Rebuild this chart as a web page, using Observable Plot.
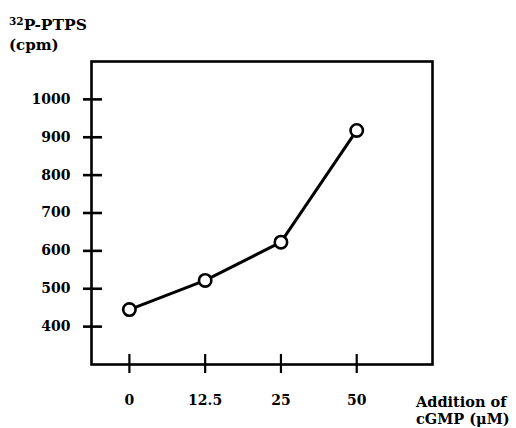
<!DOCTYPE html>
<html>
<head>
<meta charset="utf-8">
<script src="https://cdn.jsdelivr.net/npm/d3@7"></script>
<script src="https://cdn.jsdelivr.net/npm/@observablehq/plot@0.6"></script>
<style>
  html, body { margin: 0; padding: 0; background: #fff; }
  #chart { width: 516px; height: 428px; }
  svg text { font-family: "DejaVu Serif", serif; font-weight: bold; }
</style>
</head>
<body>
<div id="chart"></div>
<script>
const cgmpLabels = ["0", "12.5", "25", "50"];
const ptpsCpm = [445, 522, 623, 918];
const yTicks = [400, 500, 600, 700, 800, 900, 1000];
const yTitleLines = ["P-PTPS", "(cpm)"];
const xTitleLines = ["Addition of", "cGMP (μM)"];

const data = cgmpLabels.map((c, i) => ({ idx: i, label: c, cpm: ptpsCpm[i] }));

const plot = Plot.plot({
  width: 516,
  height: 428,
  marginLeft: 91,
  marginRight: 84,
  marginTop: 61,
  marginBottom: 64,
  style: { background: "#fff", color: "#000", fontFamily: "DejaVu Serif", fontSize: "14px" },
  x: { type: "linear", domain: [-0.5, 4] },
  y: { type: "linear", domain: [300, 1100] },
  marks: [
    Plot.frame({ stroke: "#000", strokeWidth: 2.6 }),
    Plot.axisY(yTicks, { tickSize: 19, dx: 11, fill: "none", strokeWidth: 2.6, label: null }),
    Plot.axisY(yTicks, { tickSize: 0, tickPadding: 21, label: null, tickFormat: d => String(d), fontWeight: "bold", fontSize: 14 }),
    Plot.axisX([0, 1, 2, 3], { tickSize: 19, dy: -10, fill: "none", strokeWidth: 2.2, label: null }),
    Plot.axisX([0, 1, 2, 3], { tickSize: 0, tickPadding: 31, label: null, tickFormat: i => cgmpLabels[i], fontWeight: "bold", fontSize: 14 }),
    Plot.line(data, { x: "idx", y: "cpm", stroke: "#000", strokeWidth: 3 }),
    Plot.dot(data, { x: "idx", y: "cpm", r: 6.2, fill: "#fff", stroke: "#000", strokeWidth: 2.6 })
  ]
});

document.getElementById("chart").appendChild(plot);

const svg = d3.select(plot);
const yt = svg.append("text").attr("x", 9).attr("y", 30).attr("text-anchor", "start")
  .attr("font-size", 15.5).attr("fill", "#000");
yt.append("tspan").attr("font-size", 10.5).attr("dy", -5).text("32");
yt.append("tspan").attr("dy", 5).text(yTitleLines[0]);
svg.append("text").attr("x", 9).attr("y", 50).attr("text-anchor", "start").attr("font-size", 15).attr("fill", "#000").text(yTitleLines[1]);

svg.append("text").attr("x", 416).attr("y", 407).attr("text-anchor", "start").attr("font-size", 14.5).attr("fill", "#000").text(xTitleLines[0]);
svg.append("text").attr("x", 416).attr("y", 424).attr("text-anchor", "start").attr("font-size", 14.5).attr("fill", "#000").text(xTitleLines[1]);
</script>
</body>
</html>
